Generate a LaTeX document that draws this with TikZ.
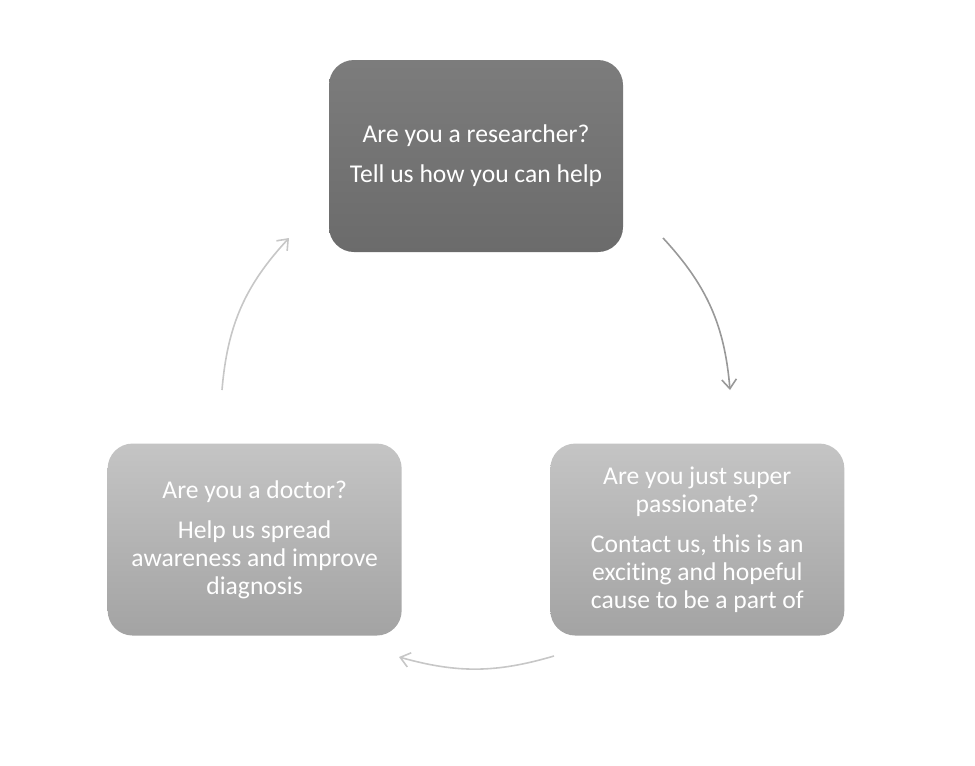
\documentclass[tikz,border=0pt]{standalone}
\usepackage{fontspec}
\setmainfont{Carlito}[Ligatures=NoCommon]
\usetikzlibrary{positioning,arrows.meta}

\tikzset{
	stage/.style={rounded corners=18.75pt, minimum width=220.5pt, minimum height=144pt,
		text=white, align=center, inner sep=0pt,
		font=\fontsize{19.2pt}{21pt}\selectfont},
	darkstage/.style={stage, top color=gray!92!black!95, bottom color=black!58},
	lightstage/.style={stage, top color=black!23, bottom color=black!36},
	cycle/.style={line width=1.2pt, -{Straight Barb[length=7pt,width=11pt,line width=1.2pt]}},
}

\begin{document}
\begin{tikzpicture}[x=0.75pt, y=-0.75pt]
	\useasboundingbox (0,0) rectangle (975,765);

	\node [darkstage] (researcher) at (476,156) {Are you a researcher?\\[9pt]Tell us how you can help};
	\node [lightstage, below=143.25pt of researcher, xshift=-166pt] (doctor) {Are you a doctor?\\[9pt]Help us spread\\awareness and improve\\diagnosis};
	\node [lightstage, below=143.25pt of researcher, xshift=166pt] (passion) {Are you just super\\passionate?\\[9pt]Contact us, this is an\\exciting and hopeful\\cause to be a part of};

	\coordinate (r1) at (663,238);
	\coordinate (r2) at (730,390);
	\coordinate (b1) at (554,656);
	\coordinate (b2) at (399,657);
	\coordinate (l1) at (222,390);
	\coordinate (l2) at (289,238);

	\draw [cycle, black!40] (r1) to[bend left=19] (r2);
	\draw [cycle, black!22] (b1) to[bend left=16] (b2);
	\draw [cycle, black!22] (l1) to[bend left=19] (l2);
\end{tikzpicture}
\end{document}
